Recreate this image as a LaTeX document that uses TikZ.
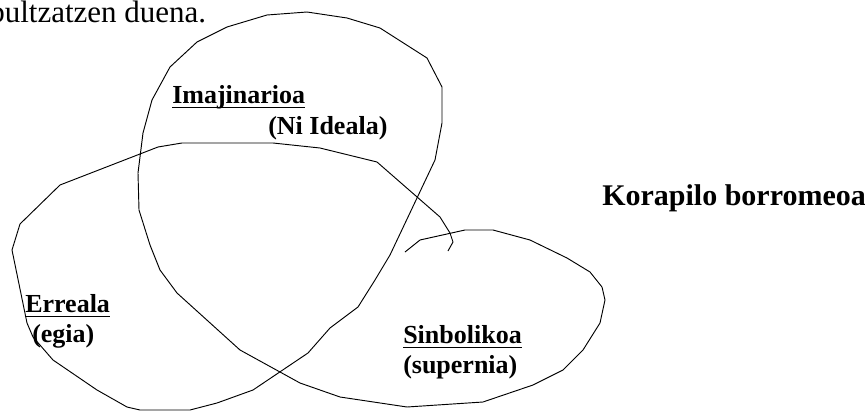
\documentclass[tikz,border=0pt]{standalone}
\usepackage{fontspec}
\setmainfont{Liberation Serif}
\tikzset{
    ring/.style={line width=0.7pt, line join=round},
    lbl/.style={font=\fontsize{19.5}{22}\selectfont\bfseries, anchor=base west, inner sep=0pt},
    uline/.style={line width=0.75pt}
}
\begin{document}
\begin{tikzpicture}[x=0.75pt, y=-0.75pt]
    \useasboundingbox (0,0) rectangle (865,411);

    % Line of text above the knot
    \node[anchor=base west, inner sep=0pt, font=\fontsize{23.25}{28}\selectfont] (intro) at (-11,22) {bultzatzen duena.};

    % Draw the real ring (left)
    \draw[ring] (448,251) -- (453,242) -- (450,233) -- (440,217) -- (377,162) -- (320,148)
        -- (273,143) -- (182,143) -- (158,147) -- (60,185) -- (20,224) -- (12,250)
        -- (27,323) -- (33,337) -- (53,360) -- (97,390) -- (127,407) -- (140,410)
        -- (190,410) -- (217,403) -- (253,390);

    % Draw the imaginary ring (top)
    \draw[ring] (253,390) -- (308,353) -- (330,328) -- (358,307) -- (375,280) -- (390,255)
        -- (435,160) -- (442,123) -- (442,87) -- (427,58) -- (380,28) -- (347,18)
        -- (307,12) -- (267,15) -- (227,27) -- (197,42) -- (170,67) -- (152,100)
        -- (143,133) -- (138,173) -- (139,210) -- (150,245) -- (160,270) -- (177,293)
        -- (240,350);

    % Draw the symbolic ring (right)
    \draw[ring] (240,350) -- (300,383) -- (340,397) -- (407,407) -- (483,402) -- (533,385)
        -- (563,370) -- (583,350) -- (600,323) -- (605,300) -- (602,287) -- (590,272)
        -- (567,258) -- (530,240) -- (493,230) -- (465,230) -- (420,240) -- (405,252);

    % Labels for the rings
    \node[lbl] (imag) at (172,103) {Imajinarioa};
    \node[lbl] (ideal) at (268,134) {(Ni Ideala)};
    \node[lbl] (real) at (25,312) {Erreala};
    \node[lbl] (truth) at (32,342) {(egia)};
    \node[lbl] (symb) at (403,343) {Sinbolikoa};
    \node[lbl] (superego) at (403,373) {(supernia)};

    % Underline the ring names
    \draw[uline] ([yshift=-3pt]imag.base west) -- ([yshift=-3pt]imag.base east);
    \draw[uline] ([yshift=-3pt]real.base west) -- ([yshift=-3pt]real.base east);
    \draw[uline] ([yshift=-3pt]symb.base west) -- ([yshift=-3pt]symb.base east);

    % Title of the knot
    \node[anchor=base west, inner sep=0pt, font=\fontsize{22.5}{26}\selectfont\bfseries] (title) at (602,205) {Korapilo borromeoa};
\end{tikzpicture}
\end{document}
